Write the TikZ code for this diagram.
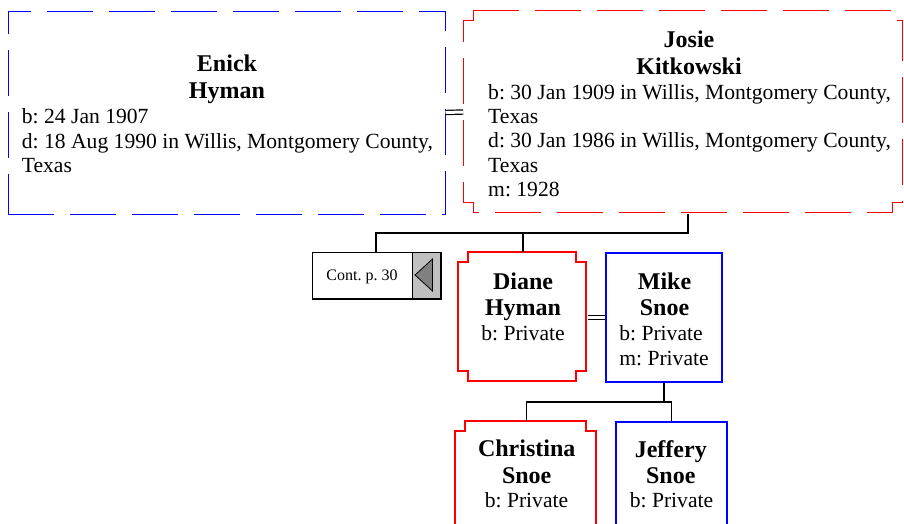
\documentclass[tikz,border=0pt]{standalone}
\usepackage{fontspec}
\setmainfont{Liberation Serif}
\frenchspacing
\definecolor{maleblue}{RGB}{0,0,255}
\definecolor{femalered}{RGB}{255,0,0}
\definecolor{flaggray}{RGB}{192,192,192}
\definecolor{arrowgray}{RGB}{128,128,128}
\tikzset{
  personbox/.style={inner sep=0pt, line width=1.6pt},
  malebox/.style={personbox, draw=maleblue},
  femalebox/.style={personbox},
  femaleframe/.style={line width=1.6pt, draw=femalered},
  lateline/.style={line width=1pt, dash pattern=on 46pt off 16pt},
  namelabel/.style={inner sep=0pt, align=center, font=\fontsize{24}{26.7}\selectfont\bfseries},
  infolabel/.style={inner sep=0pt, align=left, font=\fontsize{21.6}{24.3}\selectfont},
  link/.style={line width=1.3pt},
  marriage/.style={double, double distance=3pt, line width=1.2pt},
}
% frame with notched corners round a named node: name, width, height, options
\newcommand{\notchframe}[4]{%
  \draw[femaleframe, #4] (#1.north west) ++(10,0) -- ++(#2-20,0) -- ++(0,10) -- ++(10,0)
    -- ++(0,#3-20) -- ++(-10,0) -- ++(0,10) -- ++(-#2+20,0)
    -- ++(0,-10) -- ++(-10,0) -- ++(0,-#3+20) -- ++(10,0) -- cycle;}
\begin{document}
\begin{tikzpicture}[x=1pt, y=-1pt]
    \useasboundingbox (0,0) rectangle (904,523);
    % Parents
    \node[malebox, lateline, minimum width=437pt, minimum height=203pt] (enick) at (226.5,112.5) {};
    \node[femalebox, minimum width=439pt, minimum height=202pt] (josie) at (683.5,112) {};
    \notchframe{josie}{439}{202}{lateline}
    \node[namelabel, anchor=north] (enickname) at (227,55) {Enick\\Hyman};
    \node[infolabel, anchor=north west] (enickinfo) at (21.7,108.7) {b: 24 Jan 1907\\d: 18 Aug 1990 in Willis, Montgomery County,\\Texas};
    \node[namelabel, anchor=north] (josiename) at (689,30.7) {Josie\\Kitkowski};
    \node[infolabel, anchor=north west] (josieinfo) at (488,84) {b: 30 Jan 1909 in Willis, Montgomery County,\\Texas\\d: 30 Jan 1986 in Willis, Montgomery County,\\Texas\\m: 1928};
    \draw[marriage] (enick.east) -- (josie.west);
    % Continuation box
    \node[personbox, draw, line width=1pt, minimum width=128pt, minimum height=46pt] (cont) at (376,275) {};
    \node[personbox, draw, line width=1pt, fill=flaggray, minimum width=28pt, minimum height=46pt, anchor=east] (contflag) at (cont.east) {};
    \draw[line width=2pt] (cont.north east) -- (cont.south east) -- (cont.south west);
    \draw[fill=arrowgray, line width=0.8pt] (contflag.west) ++(3.5,0) -- ++(17.5,-16) -- ++(0,32) -- cycle;
    \node[inner sep=0pt, font=\fontsize{16}{18}\selectfont, anchor=base] (contlabel) at (362,280) {Cont. p. 30};
    % Children
    \node[femalebox, minimum width=128pt, minimum height=129pt] (diane) at (523,317.5) {};
    \notchframe{diane}{128}{129}{}
    \node[malebox, minimum width=116pt, minimum height=129pt] (mike) at (664,317.5) {};
    \node[namelabel, anchor=north] (dianename) at (523,272.3) {Diane\\Hyman};
    \node[infolabel, anchor=base] (dianeinfo) at (523,340) {b: Private};
    \node[namelabel, anchor=north] (mikename) at (664.5,272.3) {Mike\\Snoe};
    \node[infolabel, anchor=north] (mikeinfo) at (664,325.7) {b: Private\\m: Private};
    \draw[marriage] (diane.east) -- (mike.west);
    \coordinate (fam1) at (688,233);
    \draw[link] (josie.south -| fam1) -- (fam1) -| (cont.north);
    \draw[link] (fam1 -| diane.north) -- (diane.north);
    % Grandchildren
    \node[femalebox, minimum width=141pt, minimum height=130pt] (christina) at (526.5,487) {};
    \notchframe{christina}{141}{130}{}
    \node[malebox, minimum width=111pt, minimum height=130pt] (jeffery) at (671.5,487) {};
    \node[namelabel, anchor=north] (christinaname) at (526.7,440) {Christina\\Snoe};
    \node[infolabel, anchor=base] (christinainfo) at (526.5,507.7) {b: Private};
    \node[namelabel, anchor=north] (jefferyname) at (670.8,440) {Jeffery\\Snoe};
    \node[infolabel, anchor=base] (jefferyinfo) at (671.5,507.7) {b: Private};
    \coordinate (fam2) at (664,402);
    \draw[link] (mike.south) -- (fam2);
    \draw[link] (christina.north) |- (jeffery.north |- fam2) -- (jeffery.north);
\end{tikzpicture}
\end{document}
